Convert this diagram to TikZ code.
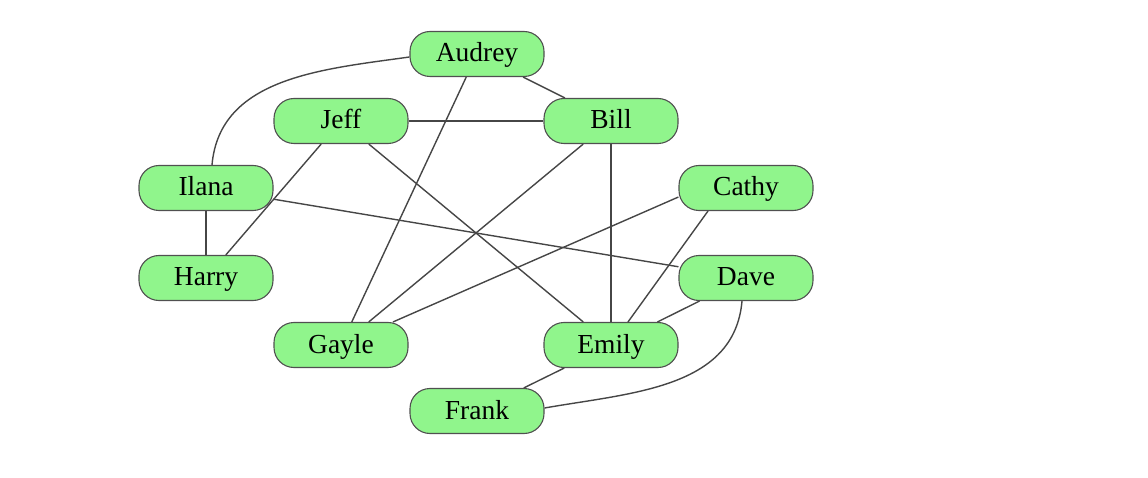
\documentclass[tikz,border=0pt]{standalone}
\usepackage{fontspec}
\setmainfont{Liberation Serif}
\definecolor{nodefill}{RGB}{144,245,140}
\definecolor{nodeline}{RGB}{80,80,80}
\definecolor{edgeline}{RGB}{70,70,70}
\begin{document}
\begin{tikzpicture}[x=1pt,y=-1pt,
  person/.style={draw=nodeline, line width=1.1pt, fill=nodefill, rounded corners=20pt,
    minimum width=134pt, minimum height=45pt, inner sep=0pt, text height=20.5pt, text depth=4.5pt,
    font=\fontsize{27.5}{30}\selectfont},
  link/.style={draw=edgeline, line width=1.4pt}]
\useasboundingbox (0,0) rectangle (1148,478);
\node[person] (Audrey) at (477,54) {Audrey};
\node[person] (Jeff) at (341,121) {Jeff};
\node[person] (Bill) at (611,121) {Bill};
\node[person] (Ilana) at (206,188) {Ilana};
\node[person] (Cathy) at (746,188) {Cathy};
\node[person] (Harry) at (206,278) {Harry};
\node[person] (Dave) at (746,278) {Dave};
\node[person] (Gayle) at (341,345) {Gayle};
\node[person] (Emily) at (611,345) {Emily};
\node[person] (Frank) at (477,411) {Frank};
\path[link] ([yshift=-3pt]Audrey.west) to[out=188, in=85] ([xshift=6pt]Ilana.north);
\path[link] (Audrey) -- (Bill);
\path[link] (Audrey) -- (Gayle);
\path[link] (Jeff) -- (Bill);
\path[link] (Jeff) -- (Harry);
\path[link] (Jeff) -- (Emily);
\path[link] (Bill) -- (Gayle);
\path[link] (Bill) -- (Emily);
\path[link] (Ilana) -- (Harry);
\path[link] (Ilana) -- (Dave);
\path[link] ([xshift=52pt]Gayle.north) -- ([yshift=-9pt]Cathy.west);
\path[link] ([xshift=-38pt]Cathy.south) -- ([xshift=17pt]Emily.north);
\path[link] (Dave) -- (Emily);
\path[link] (Emily) -- (Frank);
\path[link] ([xshift=-4pt]Dave.south) to[out=-95, in=10] ([yshift=3pt]Frank.east);
\end{tikzpicture}
\end{document}
